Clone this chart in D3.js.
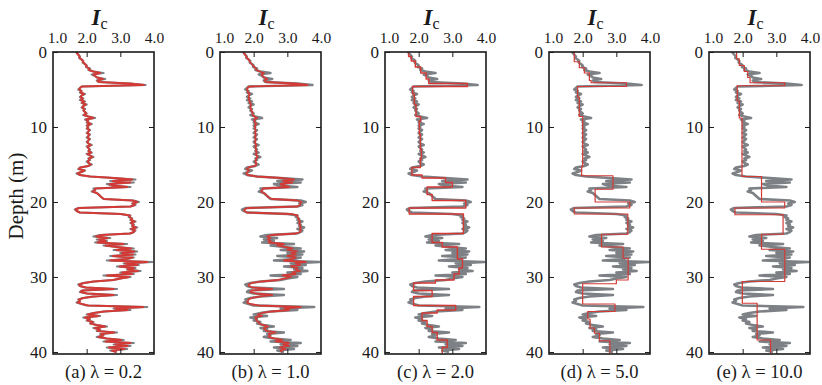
<!DOCTYPE html>
<html><head><meta charset="utf-8">
<script src="https://cdn.jsdelivr.net/npm/d3@7"></script>
<style>
body{margin:0;background:#fff}
svg{display:block}
svg text{font-family:"Liberation Serif","Times New Roman",Tinos,"DejaVu Serif",serif !important;fill:#1a1a1a}
</style>
</head><body>
<svg id="chart" width="822" height="385"></svg>
<script>
// ---------------- DATA ----------------
const depthStep = 0.2; // sample spacing of the CPT profile (m)
// raw Ic profile, one value each 0.2 m from 0 to 40 m
const rawIc = [
 1.68,1.72,1.76,1.80,1.78, 1.85,1.90,1.88,1.95,2.00, 1.98,2.10,2.05,2.20,2.50, 2.15,2.25,2.30,2.55,2.30,
 2.35,3.30,3.75,1.85,1.80, 1.75,1.85,1.80,1.95,1.85, 1.80,1.90,1.80,1.95,1.85, 2.00,1.90,1.85,1.95,1.90,
 1.95,2.00,1.90,2.05,2.25, 1.95,2.05,2.00,2.15,2.00, 2.05,2.00,2.10,2.05,2.00, 2.10,2.05,2.00,2.10,2.05,
 2.00,2.05,2.15,2.00,2.05, 2.10,2.05,2.15,2.00,2.10, 2.20,2.05,2.10,2.00,2.05, 2.15,2.05,1.80,1.75,1.95,
 1.85,1.70,1.80,2.10,2.80, 3.45,2.70,3.40,2.60,2.75, 3.30,2.20,2.25,2.15,2.30, 2.35,2.40,2.45,2.50,3.40,
 3.55,3.35,3.45,3.30,1.75, 1.65,1.70,1.80,3.00,3.30, 3.25,3.35,3.30,3.45,3.30, 3.40,3.35,3.50,3.30,3.45,
 3.40,3.30,2.40,2.20,2.70, 2.30,2.60,2.25,3.20,2.50, 2.90,3.40,2.80,3.50,3.00, 3.45,2.70,3.40,3.20,2.60,
 3.95,3.10,3.55,2.90,3.45, 3.20,3.60,3.00,3.40,2.50, 3.30,3.00,2.80,2.20,1.90, 1.75,1.80,1.95,2.90,1.85,
 1.80,2.00,2.90,2.20,1.90, 1.75,1.80,1.70,1.85,2.00, 3.80,2.80,3.30,2.50,2.20, 2.00,2.40,1.90,2.10,2.00,
 2.20,2.10,2.30,2.60,2.20, 2.40,2.30,2.90,2.40,2.50, 2.30,2.60,3.10,2.50,3.40, 2.80,3.30,2.60,3.20,2.70,
 2.90
];
// fitted profile, lambda = 0.2 (same 0.2 m grid)
const fitA = [
 1.69,1.72,1.76,1.79,1.79, 1.85,1.89,1.90,1.95,1.99, 2.00,2.07,2.07,2.20,2.40, 2.20,2.25,2.32,2.48,2.32,
 2.36,3.28,3.70,1.86,1.80, 1.78,1.84,1.82,1.92,1.85, 1.82,1.88,1.83,1.92,1.87, 1.97,1.90,1.87,1.93,1.91,
 1.95,1.99,1.92,2.05,2.20, 1.98,2.04,2.02,2.12,2.02, 2.04,2.02,2.08,2.05,2.02, 2.08,2.05,2.03,2.08,2.05,
 2.02,2.05,2.12,2.03,2.05, 2.08,2.06,2.13,2.03,2.10, 2.17,2.07,2.08,2.03,2.06, 2.12,2.05,1.82,1.77,1.93,
 1.84,1.73,1.80,2.10,2.82, 3.35,2.78,3.30,2.68,2.78, 3.20,2.25,2.25,2.18,2.30, 2.36,2.40,2.45,2.52,3.35,
 3.50,3.37,3.42,3.30,1.78, 1.67,1.71,1.80,3.02,3.28, 3.28,3.34,3.32,3.42,3.32, 3.38,3.36,3.46,3.33,3.43,
 3.40,3.28,2.45,2.28,2.62, 2.36,2.56,2.32,3.10,2.56, 2.90,3.32,2.88,3.42,3.05, 3.38,2.78,3.36,3.18,2.70,
 3.80,3.15,3.50,2.98,3.40, 3.22,3.52,3.05,3.35,2.60, 3.25,3.00,2.78,2.22,1.92, 1.78,1.80,1.98,2.80,1.88,
 1.82,2.02,2.80,2.20,1.90, 1.77,1.80,1.73,1.86,2.05, 3.68,2.85,3.22,2.52,2.22, 2.04,2.35,1.95,2.08,2.03,
 2.18,2.12,2.30,2.55,2.25, 2.38,2.33,2.82,2.43,2.48, 2.35,2.60,3.02,2.56,3.30, 2.85,3.22,2.66,3.12,2.75,
 2.88
];
// fitted profile, lambda = 1.0 (same 0.2 m grid)
const fitB = [
 1.70,1.72,1.75,1.78,1.80, 1.85,1.88,1.90,1.94,1.98, 2.02,2.06,2.08,2.18,2.30, 2.24,2.26,2.32,2.40,2.32,
 2.36,3.20,3.60,1.88,1.82, 1.80,1.83,1.83,1.88,1.86, 1.85,1.86,1.86,1.89,1.89, 1.92,1.91,1.90,1.92,1.93,
 1.96,1.97,1.97,2.03,2.10, 2.02,2.03,2.03,2.08,2.04, 2.04,2.04,2.06,2.05,2.04, 2.06,2.05,2.05,2.06,2.05,
 2.04,2.05,2.08,2.05,2.06, 2.07,2.07,2.09,2.06,2.09, 2.12,2.08,2.07,2.05,2.07, 2.08,2.03,1.85,1.80,1.86,
 1.82,1.78,1.82,2.10,2.80, 3.20,2.88,3.15,2.80,2.85, 3.05,2.28,2.26,2.22,2.30, 2.36,2.40,2.45,2.55,3.30,
 3.42,3.38,3.38,3.30,1.82, 1.72,1.73,1.80,3.10,3.30, 3.30,3.33,3.34,3.38,3.35, 3.37,3.38,3.40,3.37,3.40,
 3.38,3.25,2.52,2.40,2.50, 2.42,2.50,2.45,2.90,2.70, 2.92,3.15,3.00,3.28,3.12, 3.25,3.00,3.25,3.15,2.90,
 3.55,3.25,3.38,3.10,3.30, 3.25,3.38,3.15,3.25,2.85, 3.10,2.95,2.72,2.25,1.95, 1.85,1.85,1.98,2.55,1.95,
 1.90,2.05,2.55,2.20,1.95, 1.84,1.84,1.80,1.90,2.15, 3.40,2.92,3.05,2.55,2.25, 2.12,2.25,2.05,2.08,2.08,
 2.15,2.16,2.28,2.42,2.30, 2.35,2.38,2.65,2.45,2.48, 2.45,2.60,2.85,2.65,3.05, 2.88,3.05,2.78,2.95,2.80,
 2.85
];
// piecewise-constant fits: segment top depths (m) and segment values
const fitCTop = [0,0.6,1.2,2.0,2.8,3.6,4.2,4.6,5.6,7.0,8.6,9.2,11.0,13.0,14.2,15.4,16.4,16.8,17.4,18.0,19.0,19.8,20.8,21.6,24.2,25.4,26.0,27.6,28.8,29.6,30.4,30.8,31.8,32.6,33.8,34.4,34.8,35.8,36.6,37.4,38.4,39.4];
const fitCVal = [1.70,1.78,1.90,2.06,2.22,2.30,3.45,1.82,1.87,1.92,2.06,2.02,2.05,2.08,2.05,1.80,2.10,2.80,3.00,2.25,2.40,3.40,1.72,3.33,2.40,2.70,3.15,3.30,3.20,3.05,2.50,1.85,2.40,1.85,3.10,2.55,2.10,2.25,2.40,2.55,2.85,2.70];
const fitDTop = [0,1.3,2.1,2.8,3.8,4.1,4.6,6.0,8.6,15.3,16.5,18.3,20.0,20.8,21.6,24.3,26.0,27.5,30.4,30.9,33.6,34.6,35.6,36.8,37.5,38.5];
const fitDVal = [1.75,1.90,2.05,2.20,2.25,3.30,1.85,1.90,2.00,1.97,2.90,2.37,3.40,1.75,3.34,2.56,3.20,3.35,3.00,2.00,2.96,2.15,2.22,2.35,2.50,2.81];
const fitETop = [0,0.9,1.8,2.6,3.4,4.1,4.5,6.5,8.8,16.6,20.0,20.8,21.7,24.3,26.3,30.6,33.5,38.4];
const fitEVal = [1.82,1.90,2.05,2.15,2.22,3.25,1.84,1.90,1.98,2.56,3.25,1.77,3.20,2.56,3.25,1.99,2.43,2.83];
const profileBottom = 40.2;

const panelLabels = ["(a) λ = 0.2","(b) λ = 1.0","(c) λ = 2.0","(d) λ = 5.0","(e) λ = 10.0"];
const icTicks = [1.0,2.0,3.0,4.0];
const icTickLabels = ["1.0","2.0","3.0","4.0"];
const depthTicks = [0,10,20,30,40];
const yTitle = "Depth (m)";

// ---------------- LAYOUT ----------------
const FONT = '"Liberation Serif","Times New Roman",Tinos,"DejaVu Serif",serif';
const svg = d3.select("#chart");
const panelLeft = [53,220,385,549,709];
const panelW = 101, plotTop = 52, plotBottom = 354;
const y = d3.scaleLinear().domain([0,40.27]).range([plotTop,plotBottom]);

const rawPts = rawIc.map((v,i)=>[v,i*depthStep]);
const toPts = arr => arr.map((v,i)=>[v,i*depthStep]);
const stepPts = (tops,vals) => {
  const p=[];
  tops.forEach((t,i)=>{ const b = i<tops.length-1?tops[i+1]:profileBottom; p.push([vals[i],t]); p.push([vals[i],b]); });
  return p;
};
const fits = [toPts(fitA), toPts(fitB), stepPts(fitCTop,fitCVal), stepPts(fitDTop,fitDVal), stepPts(fitETop,fitEVal)];
const redW = [2.0,1.8,1.4,1.2,1.2];
const grayW = [2.2,2.4,2.6,2.6,2.6];

const defs = svg.append("defs");

panelLeft.forEach((L,pi)=>{
  const x = d3.scaleLinear().domain([1,4]).range([L,L+panelW]);
  const g = svg.append("g").attr("font-family",FONT);
  const cid = "clip"+pi;
  defs.append("clipPath").attr("id",cid).append("rect").attr("x",L).attr("y",plotTop).attr("width",panelW).attr("height",plotBottom-plotTop);
  const line = d3.line().x(d=>x(d[0])).y(d=>y(d[1]));
  const pg = g.append("g").attr("clip-path",`url(#${cid})`);
  pg.append("path").attr("d",line(rawPts)).attr("fill","none").attr("stroke","#7d8185").attr("stroke-width",grayW[pi]).attr("stroke-linejoin","round");
  pg.append("path").attr("d",line(fits[pi])).attr("fill","none").attr("stroke","#d33a36").attr("stroke-width",redW[pi]).attr("stroke-linejoin","round");

  g.append("rect").attr("x",L).attr("y",plotTop).attr("width",panelW).attr("height",plotBottom-plotTop)
    .attr("fill","none").attr("stroke","#1a1a1a").attr("stroke-width",1.6);

  const ax = g.append("g").attr("transform",`translate(0,${plotTop})`)
    .call(d3.axisTop(x).tickValues(icTicks).tickFormat((d,i)=>icTickLabels[i]).tickSizeInner(-5).tickSizeOuter(0).tickPadding(9));
  ax.attr("font-family",FONT);
  ax.select(".domain").remove();
  ax.selectAll("line").attr("stroke","#1a1a1a").attr("stroke-width",1);
  ax.selectAll("text").attr("font-size",15.5).attr("fill","#1a1a1a");
  ax.selectAll(".tick").filter(d=>d===1).select("text").attr("x",4);
  ax.selectAll(".tick").filter(d=>d===1||d===4).select("line").remove();
  const bx = g.append("g").attr("transform",`translate(0,${plotBottom})`)
    .call(d3.axisBottom(x).tickValues([2,3]).tickFormat("").tickSizeInner(-5).tickSizeOuter(0));
  bx.select(".domain").remove();
  bx.selectAll("line").attr("stroke","#1a1a1a");

  const ay = g.append("g").attr("transform",`translate(${L},0)`)
    .call(d3.axisLeft(y).tickValues(depthTicks).tickFormat(d3.format("d")).tickSizeInner(-5).tickSizeOuter(0).tickPadding(6));
  ay.attr("font-family",FONT);
  ay.select(".domain").remove();
  ay.selectAll("line").attr("stroke","#1a1a1a");
  ay.selectAll("text").attr("font-size",17).attr("fill","#1a1a1a");
  const ry = g.append("g").attr("transform",`translate(${L+panelW},0)`)
    .call(d3.axisRight(y).tickValues([10,20,30,40]).tickFormat("").tickSizeInner(-5).tickSizeOuter(0));
  ry.select(".domain").remove();
  ry.selectAll("line").attr("stroke","#1a1a1a");

  const t = g.append("text").attr("x",L+panelW/2-4).attr("y",25).attr("text-anchor","middle");
  t.append("tspan").text("I").attr("font-style","italic").attr("font-weight","bold").attr("font-size",23);
  t.append("tspan").text("c").attr("font-size",16).attr("dy",4);

  g.append("text").attr("x",L+panelW/2).attr("y",378).attr("text-anchor","middle").attr("font-size",18.5).text(panelLabels[pi]);
});

svg.append("text").attr("font-family",FONT).attr("transform","translate(23,196) rotate(-90)").attr("text-anchor","middle").attr("font-size",21).text(yTitle);
</script>
</body></html>
